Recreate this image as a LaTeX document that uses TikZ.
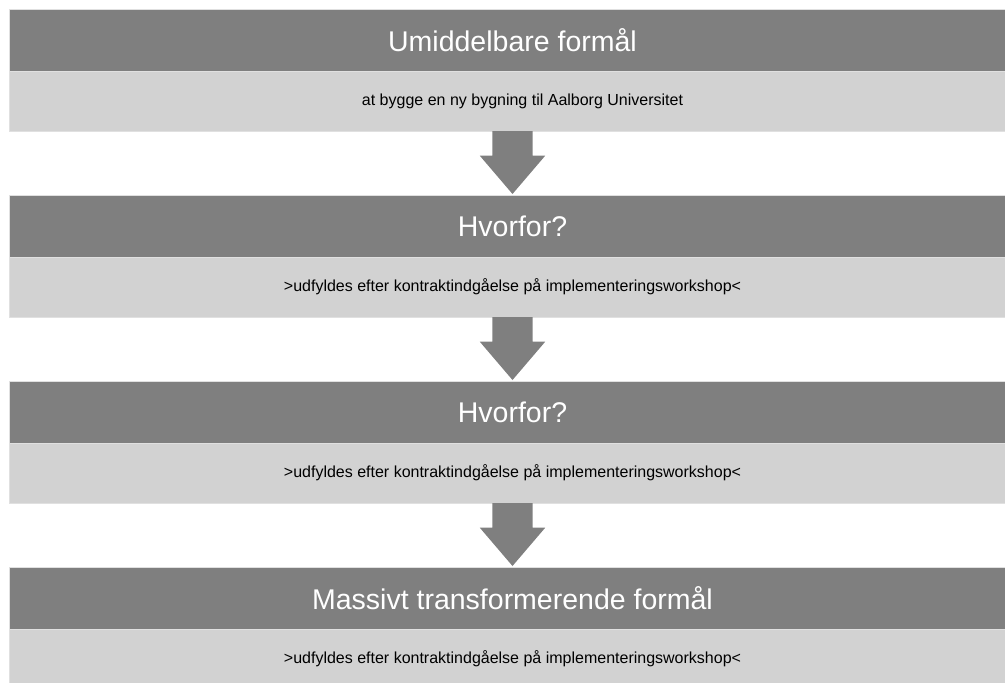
\documentclass[tikz,border=0pt]{standalone}
\usepackage{fontspec}
\setmainfont{Liberation Sans}
\usetikzlibrary{positioning,shapes.arrows}
\definecolor{darkbar}{HTML}{7F7F7F}
\definecolor{lightbar}{HTML}{D2D2D2}

\begin{document}
\begin{tikzpicture}[x=1pt, y=1pt,
        node distance=0pt and 0pt,
        % --- styles ---
        title/.style={rectangle, fill=darkbar, draw=white!88!black, line width=0.6pt, outer sep=0pt,
                      minimum width=1007pt, minimum height=62pt, text=white,
                      font=\fontsize{28.5}{32}\selectfont},
        goal/.style={rectangle, fill=lightbar, draw=white!88!black, line width=0.6pt, outer sep=0pt,
                     minimum width=1007pt, minimum height=60pt, text=black,
                     font=\fontsize{16}{19}\selectfont},
        downarrow/.style={single arrow, rotate=-90, fill=darkbar, inner xsep=0pt, inner ysep=20pt,
                          outer sep=0pt, minimum height=63pt, single arrow head extend=12.5pt,
                          single arrow tip angle=81}
    ]
    \useasboundingbox (0,0) rectangle (1005,-683);
    \clip (0,0) rectangle (1005,-683);

    % --- sections ---
    \node[title] (t1) at (512.5,-40) {Umiddelbare formål};
    \node[goal, below=of t1] (g1) {\hspace*{20pt}at bygge en ny bygning til Aalborg Universitet};

    \node[title, below=64pt of g1] (t2) {Hvorfor?};
    \node[goal, below=of t2] (g2) {>udfyldes efter kontraktindgåelse på implementeringsworkshop<};

    \node[title, below=64pt of g2] (t3) {Hvorfor?};
    \node[goal, below=of t3] (g3) {>udfyldes efter kontraktindgåelse på implementeringsworkshop<};

    \node[title, below=64pt of g3] (t4) {Massivt transformerende formål};
    \node[goal, below=of t4] (g4) {>udfyldes efter kontraktindgåelse på implementeringsworkshop<};

    % --- arrows ---
    \node[downarrow, anchor=tail] (a1) at (g1.south) {};
    \node[downarrow, anchor=tail] (a2) at (g2.south) {};
    \node[downarrow, anchor=tail] (a3) at (g3.south) {};

\end{tikzpicture}
\end{document}
